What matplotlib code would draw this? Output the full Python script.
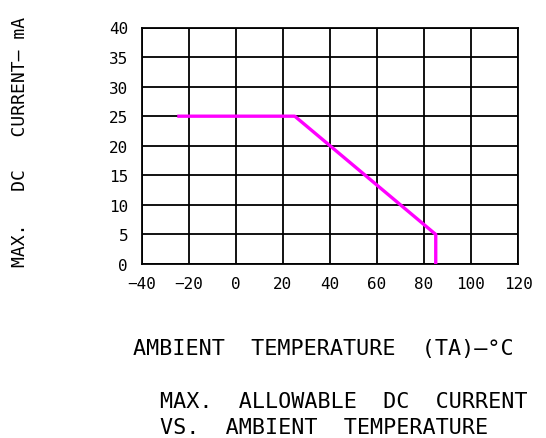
import matplotlib
matplotlib.use("Agg")
import matplotlib.pyplot as plt

# derating curve
temp_c = [-25, 25, 85, 85]
current_ma = [25, 25, 5, 0]

x_ticks = [-40, -20, 0, 20, 40, 60, 80, 100, 120]
y_ticks = [0, 5, 10, 15, 20, 25, 30, 35, 40]

mono = "DejaVu Sans Mono"

fig = plt.figure(figsize=(5.46, 4.39), dpi=100)
ax = fig.add_axes([142 / 546, 1 - 265 / 439, 376 / 546, 236.5 / 439])

ax.plot(temp_c, current_ma, color="#ff00ff", linewidth=2.4, solid_capstyle="butt", zorder=3)

ax.set_xlim(-40, 120)
ax.set_ylim(0, 40)
ax.set_xticks(x_ticks)
ax.set_yticks(y_ticks)
ax.set_xticklabels(["\u221240", "\u221220", "0", "20", "40", "60", "80", "100", "120"],
                   family=mono)
ax.set_yticklabels([str(v) for v in y_ticks], family=mono)
ax.grid(True, color="black", linewidth=1.3)
for s in ax.spines.values():
    s.set_linewidth(1.3)
ax.tick_params(length=0, labelsize=11.5, pad=9)
ax.tick_params(axis="y", pad=10)

fig.text(20 / 546, 1 - 142 / 439, "MAX.   DC   CURRENT\u2013 mA", rotation=90,
         ha="center", va="center", fontsize=13, family=mono)
fig.text(133 / 546, 1 - 349 / 439, "AMBIENT  TEMPERATURE  (TA)\u2013\u00b0C",
         ha="left", va="center", fontsize=15.7, family=mono)
fig.text(160 / 546, 1 - 402 / 439, "MAX.  ALLOWABLE  DC  CURRENT",
         ha="left", va="center", fontsize=15.7, family=mono)
fig.text(160 / 546, 1 - 428 / 439, "VS.  AMBIENT  TEMPERATURE",
         ha="left", va="center", fontsize=15.7, family=mono)

fig.savefig("out.png", dpi=100)
